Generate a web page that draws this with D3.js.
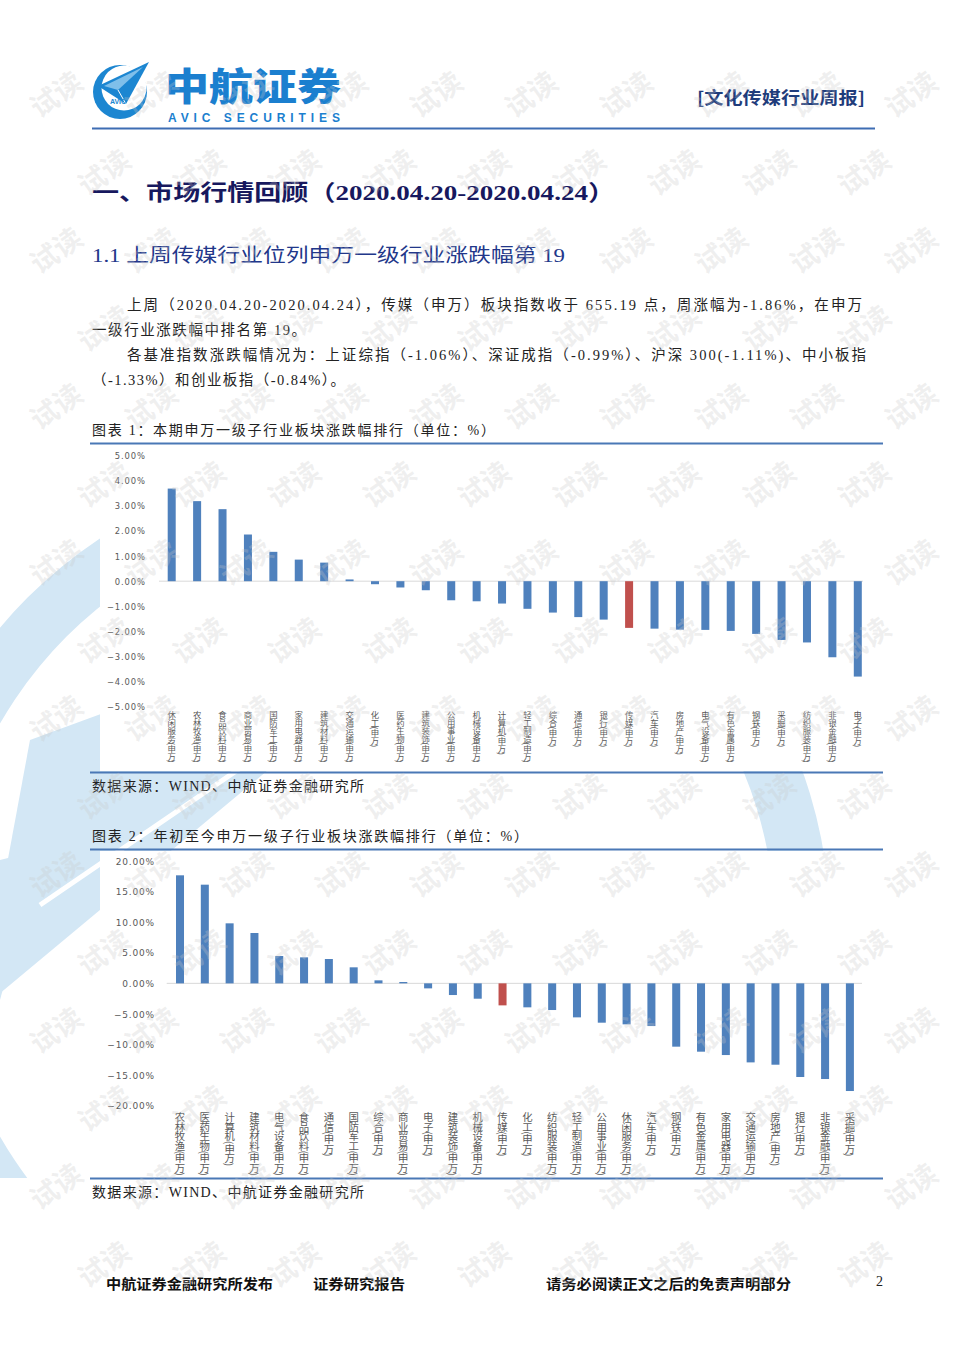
<!DOCTYPE html>
<html><head><meta charset="utf-8">
<script src="https://cdn.jsdelivr.net/npm/d3@7/dist/d3.min.js"></script>
<style>
html,body{margin:0;padding:0;background:#fff;}
svg{display:block;}
.vlab{writing-mode:vertical-rl;}
</style></head>
<body>
<svg id="page" width="960" height="1357"></svg>
<script>
// ---------- DATA ----------
const suffix = "(申万)";
const cats1 = ["休闲服务","农林牧渔","食品饮料","商业贸易","国防军工","家用电器","建筑材料","交通运输","化工","医药生物","建筑装饰","公用事业","机械设备","计算机","轻工制造","综合","通信","银行","传媒","汽车","房地产","电气设备","有色金属","钢铁","采掘","纺织服装","非银金融","电子"];
const vals1 = [3.69,3.19,2.87,1.86,1.17,0.86,0.74,0.07,-0.12,-0.25,-0.36,-0.76,-0.80,-0.89,-1.10,-1.25,-1.43,-1.53,-1.86,-1.89,-1.93,-1.94,-1.98,-2.10,-2.34,-2.44,-3.03,-3.80];
const ticks1 = [5,4,3,2,1,0,-1,-2,-3,-4,-5];

const cats2 = ["农林牧渔","医药生物","计算机","建筑材料","电气设备","食品饮料","通信","国防军工","综合","商业贸易","电子","建筑装饰","机械设备","传媒","化工","纺织服装","轻工制造","公用事业","休闲服务","汽车","钢铁","有色金属","家用电器","交通运输","房地产","银行","非银金融","采掘"];
const vals2 = [17.66,16.13,9.81,8.23,4.47,4.25,3.98,2.62,0.49,0.22,-0.82,-1.91,-2.51,-3.60,-3.92,-4.36,-5.56,-6.43,-6.70,-6.98,-10.35,-11.17,-11.72,-12.92,-13.30,-15.31,-15.64,-17.60];
const ticks2 = [20,15,10,5,0,-5,-10,-15,-20];

const highlight = "传媒";

// ---------- STYLE ----------
const BLUE = "#4f81bd", RED = "#c0504d";
const serif = "'Liberation Serif','Noto Sans CJK SC',serif";
const sans = "'Noto Sans CJK SC','Noto Sans',sans-serif";
const svg = d3.select("#page");

// ---------- background decoration (faint logo) ----------
svg.append("clipPath").attr("id","decoClip").append("rect").attr("x",0).attr("y",440).attr("width",960).attr("height",738);
const deco = svg.append("g").attr("fill","#d3e7f5").attr("clip-path","url(#decoClip)");
deco.append("path")
  .attr("d", d3.arc()({innerRadius:415, outerRadius:470, startAngle:0, endAngle:2*Math.PI}))
  .attr("transform","translate(360,930)");
deco.append("polygon").attr("points","-20,1010 30,740 520,560");
deco.append("polygon").attr("points","0,860 40,850 0,1000");
deco.append("line").attr("x1",40).attr("y1",905).attr("x2",340).attr("y2",700).attr("stroke","#fff").attr("stroke-width",5);

// ---------- header ----------
const logo = svg.append("g");
logo.append("circle").attr("cx",120).attr("cy",92).attr("r",27).attr("fill","#1c86d1");
logo.append("circle").attr("cx",124).attr("cy",88).attr("r",22.5).attr("fill","#fff");
logo.append("polygon").attr("points","98,86 149,62 126,104").attr("fill","#1c86d1");
logo.append("polygon").attr("points","104,86 143,67 118,90").attr("fill","#7fbfea");
logo.append("line").attr("x1",118).attr("y1",90).attr("x2",126).attr("y2",104).attr("stroke","#fff").attr("stroke-width",1);
logo.append("text").attr("x",118).attr("y",104).attr("text-anchor","middle")
  .attr("font-family","'Liberation Sans',sans-serif").attr("font-size",7).attr("font-weight","bold")
  .attr("fill","#1c86d1").text("AVIC");
svg.append("text").attr("x",165).attr("y",99.5).attr("font-family",sans).attr("font-weight",900)
  .attr("font-size",38).attr("fill","#1b7fcf").attr("textLength",176).attr("lengthAdjust","spacingAndGlyphs").text("中航证券");
svg.append("text").attr("x",168).attr("y",121.5).attr("font-family","'Liberation Sans',sans-serif").attr("font-weight","bold")
  .attr("font-size",12).attr("fill","#1b7fcf").attr("textLength",172).attr("lengthAdjust","spacing").text("AVIC  SECURITIES");
svg.append("text").attr("x",697).attr("y",104).attr("font-family",sans).attr("font-weight",700)
  .attr("font-size",17).attr("fill","#1f3c7b").attr("textLength",168).attr("lengthAdjust","spacingAndGlyphs").text("[文化传媒行业周报]");
svg.append("line").attr("x1",92).attr("x2",875).attr("y1",128.5).attr("y2",128.5).attr("stroke","#3e6db3").attr("stroke-width",2);

// ---------- headings & body ----------
function txt(x,y,s,size,opts={}){
  const t = svg.append("text").attr("x",x).attr("y",y).attr("font-size",size)
    .attr("font-family",opts.family||serif).attr("fill",opts.fill||"#222")
    .attr("font-weight",opts.weight||400).text(s);
  if(opts.len) t.attr("textLength",opts.len).attr("lengthAdjust",opts.adj||"spacing");
  return t;
}
txt(92,200,"一、市场行情回顾（2020.04.20-2020.04.24）",22,{family:serif,weight:700,fill:"#17185e",len:523,adj:"spacingAndGlyphs"});
txt(92,262,"1.1 上周传媒行业位列申万一级行业涨跌幅第 19",19,{fill:"#22378a",len:473,adj:"spacingAndGlyphs"});
txt(127,310,"上周（2020.04.20-2020.04.24），传媒（申万）板块指数收于 655.19 点，周涨幅为-1.86%，在申万",14.5,{len:735});
txt(92,335,"一级行业涨跌幅中排名第 19。",14.5,{len:214});
txt(127,360,"各基准指数涨跌幅情况为：上证综指（-1.06%）、深证成指（-0.99%）、沪深 300(-1.11%)、中小板指",14.5,{len:739});
txt(92,385,"（-1.33%）和创业板指（-0.84%）。",14.5,{len:253});
txt(92,435,"图表 1：本期申万一级子行业板块涨跌幅排行（单位：%）",14,{len:403});
txt(92,791,"数据来源：WIND、中航证券金融研究所",14,{len:272});
txt(92,841,"图表 2：年初至今申万一级子行业板块涨跌幅排行（单位：%）",14,{len:436});
txt(92,1197,"数据来源：WIND、中航证券金融研究所",14,{len:272});

// frame lines
[443.5,772.5,849.5,1178.5].forEach(y=>{
  svg.append("line").attr("x1",90).attr("x2",883).attr("y1",y).attr("y2",y).attr("stroke","#4a78b6").attr("stroke-width",1.8);
});

// ---------- charts ----------
function chart(cfg){
  const g = svg.append("g");
  g.append("rect").attr("x",100).attr("y",cfg.top).attr("width",780).attr("height",cfg.h).attr("fill","#fff");
  const y = d3.scaleLinear().domain(cfg.domain).range(cfg.yRange);
  const x = d3.scaleBand().domain(cfg.cats).range(cfg.xRange).paddingInner(cfg.pad).paddingOuter(cfg.pad/2);
  const ax = d3.axisLeft(y).tickValues(cfg.ticks).tickSize(0).tickPadding(0).tickFormat(d=>d3.format(".2f")(d)+"%");
  const axg = g.append("g").attr("transform",`translate(${cfg.tickRight},0)`).call(ax);
  axg.select(".domain").remove();
  axg.selectAll("text").attr("font-family","'DejaVu Sans',sans-serif").attr("font-size",cfg.tickSize)
    .attr("fill","#595959").attr("letter-spacing",cfg.ls).attr("dx",cfg.ls).attr("dy","0.35em");
  g.append("line").attr("x1",cfg.zero[0]).attr("x2",cfg.zero[1]).attr("y1",y(0)).attr("y2",y(0))
    .attr("stroke","#d9d9d9").attr("stroke-width",1);
  g.selectAll("rect.bar").data(cfg.cats.map((c,i)=>({c,v:cfg.vals[i]}))).join("rect").attr("class","bar")
    .attr("x",d=>x(d.c)).attr("width",x.bandwidth())
    .attr("y",d=>y(Math.max(0,d.v))).attr("height",d=>Math.abs(y(d.v)-y(0)))
    .attr("fill",d=>d.c===highlight?RED:BLUE);
  // vertical category labels
  g.selectAll("text.vlab").data(cfg.cats).join("text").attr("class","vlab")
    .attr("x",d=>x(d)+x.bandwidth()/2).attr("y",cfg.labTop)
    .attr("font-family",sans).attr("font-size",cfg.labSize).attr("letter-spacing",cfg.labLs)
    .attr("fill","#595959").text(d=>d+suffix);
}
chart({cats:cats1, vals:vals1, ticks:ticks1, domain:[5,-5], yRange:[455.7,706.7],
  xRange:[159,870.5], pad:0.685, top:445, h:326, tickRight:145, tickSize:8.4, ls:0.9,
  zero:[159,863], labTop:711, labSize:8.4, labLs:-0.6});
chart({cats:cats2, vals:vals2, ticks:ticks2, domain:[20,-20], yRange:[861,1105.7],
  xRange:[167.6,862.3], pad:0.677, top:851, h:326, tickRight:154, tickSize:9, ls:0.8,
  zero:[166.7,862], labTop:1112, labSize:10.4, labLs:-0.8});

// ---------- footer ----------
txt(106,1289,"中航证券金融研究所发布",14,{family:sans,weight:700,fill:"#111",len:167,adj:"spacingAndGlyphs"});
txt(313,1289,"证券研究报告",14,{family:sans,weight:700,fill:"#111",len:92,adj:"spacingAndGlyphs"});
txt(546,1289,"请务必阅读正文之后的免责声明部分",14,{family:sans,weight:700,fill:"#111",len:245,adj:"spacingAndGlyphs"});
txt(876,1286,"2",14,{fill:"#222"});

// ---------- watermark ----------
const wm = svg.append("g").attr("pointer-events","none");
const wmPos = [];
for(let r=0;r<18;r++){
  for(let cI=-1;cI<11;cI++){
    const px = cI*95 + (r%2?47:0) + 8, py = r*78 + 15;
    if(px>=32 && px<=928 && py>=22 && py<=1335) wmPos.push([px,py]);
  }
}
wm.selectAll("text").data(wmPos).join("text")
  .attr("transform",d=>`translate(${d[0]},${d[1]}) rotate(-35)`)
  .attr("text-anchor","middle").attr("dominant-baseline","central")
  .attr("font-family",sans).attr("font-weight",700).attr("font-size",28)
  .attr("fill","#c8c8c8").attr("fill-opacity",0.28).text("试读");
</script>
</body></html>
